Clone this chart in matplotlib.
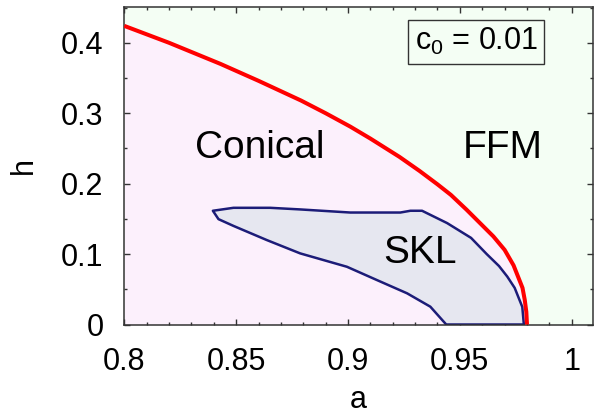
import matplotlib
matplotlib.use("Agg")
import matplotlib.pyplot as plt
from matplotlib.ticker import MultipleLocator, FixedLocator, FixedFormatter

plt.rcParams['font.family'] = ['Liberation Sans', 'DejaVu Sans']
plt.rcParams['mathtext.fontset'] = 'custom'
plt.rcParams['mathtext.rm'] = 'Liberation Sans'
plt.rcParams['mathtext.it'] = 'Liberation Sans'

# Red phase boundary (Conical / FFM)
red_a = [0.800, 0.820, 0.843, 0.860, 0.879, 0.890, 0.901, 0.910, 0.923, 0.932, 0.940,
         0.946, 0.953, 0.959, 0.965, 0.970, 0.974, 0.976, 0.978, 0.979, 0.9797, 0.980]
red_h = [0.424, 0.400, 0.370, 0.346, 0.318, 0.300, 0.281, 0.264, 0.238, 0.218, 0.199,
         0.184, 0.163, 0.144, 0.125, 0.106, 0.084, 0.068, 0.052, 0.035, 0.018, 0.000]

# SKL pocket boundary (closed polygon)
skl_a = [0.8396, 0.8488, 0.8652, 0.8786, 0.9010, 0.9234, 0.9279, 0.9331, 0.9443, 0.9550,
         0.9620, 0.9675, 0.9712, 0.9745, 0.9779, 0.9786,
         0.9439, 0.9368, 0.9264, 0.9130, 0.8995, 0.8786, 0.8637, 0.8488, 0.8421, 0.8396]
skl_h = [0.1615, 0.1657, 0.1657, 0.1634, 0.1590, 0.1590, 0.1615, 0.1615, 0.1440, 0.1230,
         0.1000, 0.0830, 0.0680, 0.0520, 0.0250, 0.0000,
         0.0000, 0.0253, 0.0443, 0.0630, 0.0820, 0.1010, 0.1199, 0.1400, 0.1496, 0.1615]

x_ticks = [0.8, 0.85, 0.9, 0.95, 1.0]
x_labels = ['0.8', '0.85', '0.9', '0.95', '1']
y_ticks = [0.0, 0.1, 0.2, 0.3, 0.4]
y_labels = ['0', '0.1', '0.2', '0.3', '0.4']

fig = plt.figure(figsize=(5.95, 4.17), dpi=100)
ax = fig.add_axes([0.2089, 0.2218, 0.9966 - 0.2089, 0.9832 - 0.2218])

ax.set_facecolor('#F4FEF4')
ax.fill_between(red_a, red_h, 0, color='#FCF0FC', linewidth=0, zorder=1)
ax.fill(skl_a, skl_h, facecolor='#E6E7F0', edgecolor='#1C1C78', linewidth=1.8, zorder=2,
        joinstyle='round')
ax.plot(red_a, red_h, color='#FF0000', linewidth=2.9, zorder=3, solid_capstyle='butt',
        solid_joinstyle='round')

ax.set_xlim(0.8, 1.0095)
ax.set_ylim(0, 0.4508)

ax.xaxis.set_major_locator(FixedLocator(x_ticks))
ax.xaxis.set_major_formatter(FixedFormatter(x_labels))
ax.yaxis.set_major_locator(FixedLocator(y_ticks))
ax.yaxis.set_major_formatter(FixedFormatter(y_labels))
ax.xaxis.set_minor_locator(MultipleLocator(0.01))
ax.yaxis.set_minor_locator(MultipleLocator(0.05))

ax.tick_params(which='both', direction='in', top=True, right=True, colors='#333333',
               labelcolor='black', labelsize=22)
ax.tick_params(which='major', length=4.5, width=1.0)
ax.tick_params(which='minor', length=2.2, width=1.0)
ax.tick_params(axis='x', which='major', pad=16)
ax.tick_params(axis='y', which='major', pad=15)
for s in ax.spines.values():
    s.set_color('#333333')
    s.set_linewidth(1.1)

ax.set_xlabel('a', fontsize=22, labelpad=6)
ax.set_ylabel('h', fontsize=22, labelpad=16)

ax.text(0.8604, 0.251, 'Conical', fontsize=28, ha='center', va='center', zorder=5)
ax.text(0.969, 0.251, 'FFM', fontsize=28, ha='center', va='center', zorder=5)
ax.text(0.9322, 0.1014, 'SKL', fontsize=28, ha='center', va='center', zorder=5)
ax.text(0.9573, 0.4014, r'c$_{\mathrm{0}}$ = 0.01', fontsize=22, ha='center', va='center', zorder=5,
        bbox=dict(boxstyle='square,pad=0.22', facecolor='none', edgecolor='#333333', linewidth=1.0))

fig.savefig('out.png', dpi=100)
